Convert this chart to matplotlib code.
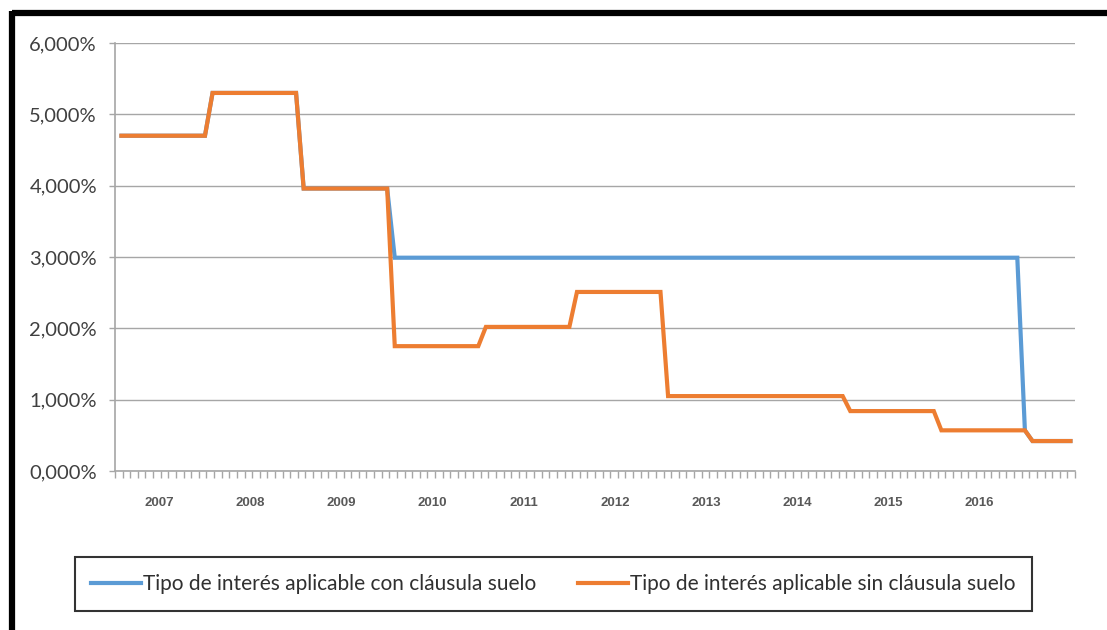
import matplotlib
matplotlib.use("Agg")
import numpy as np
import matplotlib.pyplot as plt
from matplotlib.lines import Line2D
from matplotlib.ticker import FuncFormatter, FixedLocator

# ---- data (monthly, Jan 2007 .. Jun 2017) ----
years = ["2007", "2008", "2009", "2010", "2011", "2012", "2013", "2014", "2015", "2016"]
# (number of months, rate %) runs for each series
orange_runs = [(12, 4.70), (12, 5.30), (12, 3.96), (12, 1.75), (12, 2.02),
               (12, 2.51), (24, 1.05), (12, 0.84), (12, 0.57), (6, 0.42)]
blue_runs = [(12, 4.70), (12, 5.30), (12, 3.96), (83, 2.99), (1, 0.57), (6, 0.42)]

def expand(runs):
    out = []
    for n, v in runs:
        out += [v] * n
    return out

sin_suelo = expand(orange_runs)
con_suelo = expand(blue_runs)
labels = ["Tipo de interés aplicable con cláusula suelo",
          "Tipo de interés aplicable sin cláusula suelo"]

W, H = 1107, 630
fig = plt.figure(figsize=(W / 100, H / 100), dpi=100)
ax = fig.add_axes([115 / W, 1 - 471 / H, (1075 - 115) / W, (471 - 43) / H])

blue = "#5B9BD5"
orange = "#ED7D31"
n = len(sin_suelo)
x = list(range(n))
ax.plot(x, con_suelo, color=blue, lw=3.0, solid_joinstyle="miter", zorder=3)
ax.plot(x, sin_suelo, color=orange, lw=3.0, solid_joinstyle="miter", zorder=4)

xmin, xmax = -0.85, n - 0.4
ax.set_xlim(xmin, xmax)
ax.set_ylim(0, 6)
gray = "#A6A6A6"
ax.set_yticks([0, 1, 2, 3, 4, 5, 6])
ax.yaxis.set_major_formatter(FuncFormatter(lambda v, p: f"{v:.3f}%".replace(".", ",")))
ax.grid(axis="y", color=gray, lw=1.0)
ax.set_axisbelow(True)
for s in ["top", "right"]:
    ax.spines[s].set_visible(False)
for s in ["left", "bottom"]:
    ax.spines[s].set_color(gray)
    ax.spines[s].set_linewidth(1.2)

ax.tick_params(axis="y", length=4, width=1, color=gray, pad=9,
               labelsize=14.5, labelcolor="#404040")
for t in ax.get_yticklabels():
    t.set_family(["Lato", "DejaVu Sans"])

# month boundary ticks
ax.xaxis.set_minor_locator(FixedLocator(list(np.linspace(xmin, xmax, n + 1))))
ax.xaxis.set_major_locator(FixedLocator([5 + 12 * k for k in range(len(years))]))
ax.set_xticklabels(years)
ax.tick_params(axis="x", which="minor", length=5, width=1, color=gray)
ax.tick_params(axis="x", which="major", length=0, pad=19, labelsize=9.5,
               labelcolor="#595959")
for t in ax.get_xticklabels():
    t.set_fontweight("bold")
    t.set_family(["Liberation Sans", "DejaVu Sans"])

handles = [Line2D([], [], color=blue, lw=3), Line2D([], [], color=orange, lw=3)]
leg = fig.legend(handles, labels, loc="center", ncol=2,
                 bbox_to_anchor=((72 + 1035) / 2 / W, 1 - 584 / H),
                 prop={"family": "Lato", "size": 15}, frameon=True,
                 fancybox=False, edgecolor="black", handlelength=2.4,
                 handletextpad=0.1, columnspacing=2.0, borderpad=0.8,
                 borderaxespad=0)
leg.get_frame().set_linewidth(1.5)
for t in leg.get_texts():
    t.set_color("#303030")

# outer frame (top and left thick black lines)
fig.add_artist(Line2D([12 / W, 1], [1 - 13 / H, 1 - 13 / H], color="black", lw=4.5,
                      transform=fig.transFigure, solid_capstyle="butt"))
fig.add_artist(Line2D([12 / W, 12 / W], [0, 1 - 11 / H], color="black", lw=4.5,
                      transform=fig.transFigure, solid_capstyle="butt"))

fig.savefig("out.png", dpi=100)
